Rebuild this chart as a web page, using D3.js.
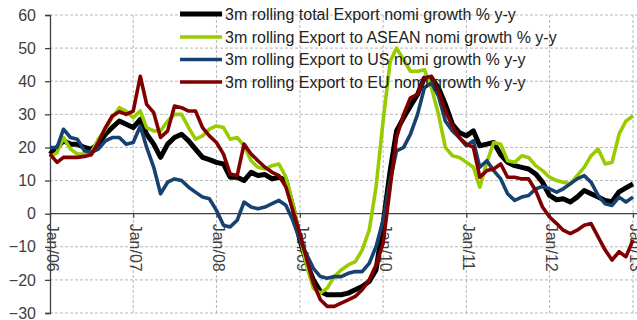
<!DOCTYPE html>
<html>
<head>
<meta charset="utf-8">
<script src="https://cdn.jsdelivr.net/npm/d3@7/dist/d3.min.js"></script>
<style>
  html, body { margin: 0; padding: 0; background: #fff; }
  svg { display: block; font-family: "Liberation Sans", Arial, sans-serif; }
</style>
</head>
<body>
<svg id="chart" width="637" height="320"></svg>
<script>
// Monthly 3-month rolling nominal export growth, % y-y, Jan 2006 – Jan 2013
const startMonth = new Date(2006, 0, 1);
const endMonth = new Date(2013, 0, 1);

const totalExport = [
  18, 20, 22, 21, 21, 20, 19.5, 21, 24, 26, 28, 27,
  26, 28.5, 24, 21, 17, 21, 23, 24, 22, 19.5, 17, 16.3,
  15.5, 15, 11, 11, 10, 12.5, 11.5, 11.8, 10.5, 11, 10, 2,
  -8, -15, -20, -23.5, -24.5, -24.5, -24.5, -24, -23, -22, -20.5, -17,
  -3, 13, 25, 29, 32.5, 36, 41, 41, 38, 33, 27, 24.5,
  23.5, 25, 20.5, 21, 21.5, 17.8, 15.5, 14.5, 14, 13.5, 12, 9.5,
  5.5, 4.2, 4.5, 3.5, 5, 7, 6, 5, 4, 3.6, 6.6, 7.8,
  9
];
const exportASEAN = [
  17, 18.5, 23, 19.5, 18, 18, 18.5, 22.5, 25.5, 29, 32, 31,
  29, 31, 26, 25, 25, 28, 30, 30, 26, 22.5, 23.5, 25.5,
  26.5, 26, 22.5, 23, 20.5, 16, 14, 13.5, 14.5, 15, 11, 3,
  -7, -16, -22.5, -24, -22.5, -19, -17, -15.5, -14.5, -11, -5, 8,
  28, 46, 50, 46.5, 43, 43, 43.5, 38, 30, 20, 17.5, 17,
  15.5, 14, 8, 15.5, 21.5, 21, 16, 15.5, 17.5, 17, 14.5, 13,
  11, 10, 9.5, 9, 11.5, 14, 17.5, 19.5, 15, 15.5, 24, 28,
  29.5
];
const exportUS = [
  20, 20, 25.5, 23, 22.5, 19, 18.5, 19.5, 22, 23, 23, 21,
  21.5, 26.5, 20, 14, 6, 9.5, 10.5, 10, 8, 6.5, 5, 4.5,
  1, -3.5, -4, -2, 3.5, 2, 1.5, 2, 3, 4, 2.5, -2,
  -8, -12.5, -16.5, -19, -19.5, -19, -19, -18, -17.5, -17.5, -15, -10,
  -2, 10, 19, 20, 24, 30, 38, 39.5, 35.5, 28, 25, 23,
  20.5, 22, 14, 16, 13, 10.5, 6, 4, 5, 5.5, 7.5, 8.2,
  7.5, 6.5, 7.5, 9, 10.5, 11.5, 9.5, 5.5, 3, 2.5, 5, 3.5,
  5
];
const exportEU = [
  18, 15.5, 17, 17, 17, 17.3, 17.8, 21.5, 26, 29.5, 30.8, 30,
  31, 41.5, 33, 30.5, 23, 25, 32.5, 32, 31, 31, 26, 23.5,
  21.5, 18, 12, 11.5, 21, 18, 16, 14, 12.5, 11.5, 8, 1,
  -6, -14, -21, -26, -28, -28, -27, -26, -25, -23, -20, -15.5,
  -9, 8, 23, 30, 35, 36, 41, 41.5, 37, 31, 26.5, 23,
  21, 20, 11, 13, 13.5, 15, 11, 11, 10.5, 10.5, 7, 2,
  -1, -3, -5, -6, -5, -3.5, -3, -7, -11, -14, -11.5, -13,
  -8
];

const seriesNames = [
  "3m rolling total Export nomi growth % y-y",
  "3m rolling Export to ASEAN nomi growth % y-y",
  "3m rolling Export to US nomi growth % y-y",
  "3m rolling Export to EU nomi growth % y-y"
];
const seriesColors = ["#000000", "#99cc00", "#17426f", "#800000"];
const seriesWidths = [5, 3.6, 3.6, 3.6];

const yTicks = [60, 50, 40, 30, 20, 10, 0, -10, -20, -30];
const xTickLabels = ["Jan/06", "Jan/07", "Jan/08", "Jan/09", "Jan/10", "Jan/11", "Jan/12", "Jan/13"];

const months = d3.timeMonth.range(startMonth, d3.timeMonth.offset(endMonth, 1));
const yearStarts = d3.timeYear.range(startMonth, d3.timeYear.offset(endMonth, 1));

const W = 637, H = 320;
const plotLeft = 50, plotRight = 633, plotTop = 15, plotBottom = 313;

const x = d3.scaleTime().domain([startMonth, endMonth]).range([plotLeft, plotRight]);
const y = d3.scaleLinear().domain([-30, 60]).range([plotBottom, plotTop]);

const svg = d3.select("#chart");
const textColor = "#404040";

// horizontal grid
svg.append("g").selectAll("line").data(yTicks.filter(v => v !== 0)).join("line")
  .attr("x1", plotLeft).attr("x2", W)
  .attr("y1", d => y(d)).attr("y2", d => y(d))
  .attr("stroke", "#b8b8b8").attr("stroke-width", 1)
  .attr("stroke-dasharray", "3,2");

// vertical grid at each January
svg.append("g").selectAll("line").data(yearStarts.slice(1)).join("line")
  .attr("x1", d => x(d)).attr("x2", d => x(d))
  .attr("y1", plotTop).attr("y2", plotBottom)
  .attr("stroke", "#b8b8b8").attr("stroke-width", 1)
  .attr("stroke-dasharray", "3,2");

// y axis
const yAxis = d3.axisLeft(y).tickValues(yTicks).tickSize(5).tickPadding(9)
  .tickFormat(d3.format("d"));
const gy = svg.append("g").attr("transform", `translate(${plotLeft},0)`).call(yAxis);
gy.select(".domain").attr("stroke", textColor).attr("stroke-width", 1.3);
gy.selectAll(".tick line").attr("stroke", textColor).attr("stroke-width", 1.3);
gy.selectAll(".tick text").attr("fill", textColor)
  .style("font-size", "16px").style("font-family", "Liberation Sans, Arial, sans-serif");

// zero line with January ticks and rotated labels
const xAxis = d3.axisBottom(x).tickValues(yearStarts).tickSize(4)
  .tickFormat((d, i) => xTickLabels[i]);
const gx = svg.append("g").attr("transform", `translate(0,${y(0)})`).call(xAxis);
gx.select(".domain").remove();
gx.append("line").attr("x1", plotLeft).attr("x2", W).attr("y1", 0).attr("y2", 0)
  .attr("stroke", textColor).attr("stroke-width", 1.3);
gx.selectAll(".tick line").attr("stroke", textColor).attr("stroke-width", 1.2);
gx.selectAll(".tick text")
  .attr("fill", textColor)
  .style("font-size", "16px").style("font-family", "Liberation Sans, Arial, sans-serif")
  .attr("transform", "rotate(90)")
  .attr("x", 10).attr("y", -2).attr("dy", "0.35em")
  .attr("text-anchor", "start");

// series lines
const allSeries = [totalExport, exportASEAN, exportUS, exportEU];
const line = d3.line()
  .x((d, i) => x(months[i]))
  .y(d => y(d));

svg.append("g").selectAll("path").data(allSeries).join("path")
  .attr("d", d => line(d))
  .attr("fill", "none")
  .attr("stroke", (d, i) => seriesColors[i])
  .attr("stroke-width", (d, i) => seriesWidths[i])
  .attr("stroke-linejoin", "round")
  .attr("stroke-linecap", "butt");

// legend
const legend = svg.append("g");
const legendRowY = [14, 37, 59.5, 82];
seriesNames.forEach((name, i) => {
  legend.append("line")
    .attr("x1", 180).attr("x2", 222)
    .attr("y1", legendRowY[i]).attr("y2", legendRowY[i])
    .attr("stroke", seriesColors[i]).attr("stroke-width", seriesWidths[i]);
  legend.append("text")
    .attr("x", 225).attr("y", legendRowY[i]).attr("dy", "0.35em")
    .attr("fill", "#222")
    .style("font-size", "16px")
    .text(name);
});
</script>
</body>
</html>
